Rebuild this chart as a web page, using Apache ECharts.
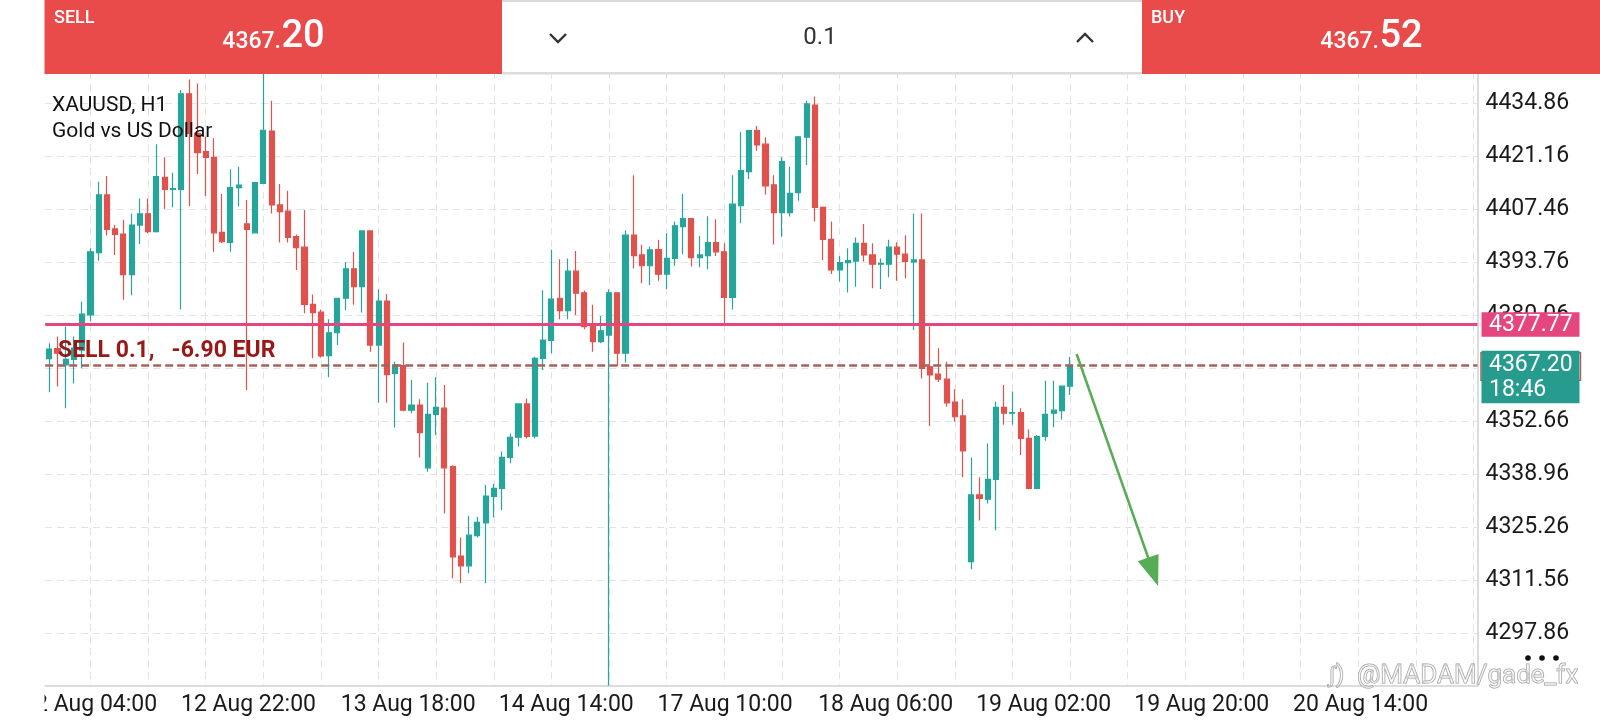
<!DOCTYPE html>
<html><head><meta charset="utf-8">
<script src="https://cdn.jsdelivr.net/npm/echarts@6/dist/echarts.min.js"></script>
<style>html,body{margin:0;padding:0;background:#fff;}#c{width:1600px;height:720px;}</style>
</head><body><div id="c"></div>
<script>
// ---- data ----
const openP = [4368.9,4371.5,4367.3,4368.7,4371.1,4380.2,4396.3,4411.2,4402.4,4401.1,
 4390.6,4403.4,4406.3,4401.7,4415.7,4412.6,4412.6,4437.3,4427.1,4422.4,
 4420.9,4401.5,4398.9,4413.1,4403.7,4401.4,4414.2,4427.7,4408.6,4407.0,
 4400.4,4397.7,4382.9,4380.9,4369.7,4375.6,4384.5,4392.1,4387.5,4401.9,
 4372.4,4383.8,4365.1,4367.1,4355.6,4356.9,4340.7,4354.5,4356.1,4341.0,
 4317.9,4315.4,4323.2,4326.5,4333.3,4335.4,4343.4,4348.6,4357.2,4348.9,
 4369.0,4373.6,4384.5,4381.3,4391.5,4385.9,4377.2,4373.3,4375.0,4385.9,
 4370.3,4400.8,4395.7,4392.9,4397.1,4390.7,4394.8,4403.0,4405.1,4395.0,
 4395.5,4398.9,4396.5,4384.7,4408.4,4417.2,4427.8,4424.3,4413.8,4406.6,
 4406.6,4411.8,4426.1,4434.4,4408.0,4399.7,4391.8,4393.7,4394.1,4398.7,
 4395.7,4393.3,4393.3,4397.7,4395.9,4393.9,4394.4,4366.8,4364.9,4363.6,
 4357.7,4354.1,4316.5,4333.7,4332.6,4337.7,4356.3,4354.8,4355.0,4348.3,
 4335.4,4348.8,4354.8,4355.5,4361.8];
const closeP = [4371.4,4370.3,4368.7,4371.6,4380.4,4396.5,4411.2,4402.3,4401.0,4390.6,
 4403.4,4406.3,4401.7,4415.9,4412.6,4412.8,4437.3,4427.1,4422.1,4420.9,
 4401.4,4399.1,4413.1,4413.7,4402.3,4414.4,4427.9,4408.6,4406.9,4400.2,
 4397.6,4382.9,4380.8,4369.6,4375.6,4384.5,4392.1,4387.5,4401.9,4372.4,
 4383.8,4364.8,4367.3,4355.6,4356.9,4349.8,4354.5,4356.3,4340.7,4317.7,
 4315.4,4323.3,4326.6,4333.4,4335.4,4343.4,4348.6,4357.2,4348.8,4369.0,
 4373.7,4384.3,4381.3,4391.5,4385.8,4377.2,4373.3,4376.1,4385.9,4370.3,
 4400.8,4395.5,4392.9,4397.0,4390.7,4394.8,4403.2,4405.1,4395.0,4395.7,
 4398.9,4396.5,4384.7,4408.8,4417.5,4427.8,4424.1,4413.5,4406.6,4419.8,
 4411.6,4426.2,4434.7,4408.0,4399.7,4391.8,4393.7,4394.2,4398.7,4395.7,
 4393.3,4393.5,4397.7,4395.9,4394.0,4394.4,4366.4,4364.7,4363.6,4357.5,
 4353.9,4345.1,4333.7,4332.8,4337.7,4356.3,4354.8,4355.0,4348.3,4335.4,
 4348.8,4354.5,4355.6,4361.8,4367.2];
const lowP = [4360.2,4361.7,4356.1,4362.5,4366.4,4378.5,4394.2,4400.7,4395.7,4384.1,
 4385.3,4398.5,4401.3,4401.5,4407.5,4408.0,4381.6,4408.3,4416.6,4410.9,
 4396.5,4398.8,4396.5,4408.2,4360.8,4401.3,4414.0,4406.4,4398.9,4398.9,
 4391.8,4380.6,4369.0,4369.2,4364.1,4372.4,4381.5,4382.8,4380.8,4370.7,
 4357.5,4357.5,4351.1,4355.3,4354.8,4343.4,4339.7,4349.2,4328.9,4312.2,
 4310.9,4313.5,4322.7,4310.9,4327.9,4329.8,4341.9,4346.2,4348.3,4348.3,
 4366.0,4370.3,4379.1,4379.1,4380.2,4376.5,4370.7,4372.9,4284.5,4367.0,
 4367.9,4392.2,4388.4,4387.9,4389.0,4386.9,4392.9,4395.9,4392.7,4392.5,
 4392.0,4395.4,4377.9,4381.6,4403.9,4415.3,4422.6,4411.3,4398.4,4400.4,
 4405.6,4409.7,4418.9,4404.3,4394.3,4390.8,4388.8,4386.0,4387.5,4394.0,
 4387.1,4386.9,4389.9,4389.0,4389.7,4376.3,4363.8,4351.5,4362.9,4356.5,
 4352.6,4338.3,4314.5,4327.1,4331.5,4324.6,4351.8,4351.8,4344.0,4335.2,
 4335.2,4347.7,4351.2,4353.2,4359.5];
const highP = [4372.9,4374.6,4377.2,4374.6,4383.6,4397.4,4414.6,4416.1,4403.4,4404.7,
 4406.3,4410.3,4410.3,4424.3,4420.9,4416.9,4438.3,4441.0,4440.0,4426.2,
 4425.8,4411.4,4417.8,4418.5,4409.9,4414.6,4446.0,4435.5,4414.0,4412.3,
 4401.0,4407.3,4385.5,4381.6,4379.1,4384.6,4393.9,4396.5,4402.0,4402.1,
 4386.8,4385.6,4368.1,4373.1,4363.4,4358.4,4362.7,4364.1,4362.1,4341.4,
 4322.7,4328.3,4328.0,4336.3,4336.5,4344.9,4349.6,4357.4,4358.6,4369.4,
 4386.6,4397.0,4394.6,4394.8,4396.7,4386.5,4382.8,4379.9,4386.8,4386.0,
 4402.1,4416.3,4398.3,4397.8,4399.6,4401.3,4404.3,4411.4,4405.3,4400.6,
 4405.7,4404.9,4398.7,4416.3,4427.5,4428.0,4429.0,4426.1,4416.3,4420.9,
 4418.5,4426.4,4435.5,4436.6,4408.2,4404.3,4395.4,4397.4,4400.2,4403.7,
 4398.7,4394.8,4399.6,4399.0,4400.8,4406.4,4406.4,4377.3,4371.6,4368.1,
 4361.0,4358.4,4343.4,4338.3,4347.0,4357.8,4362.1,4360.4,4356.1,4350.6,
 4349.2,4363.2,4363.2,4362.0,4369.4];

const barCount = 174;                       // candles + empty future slots
const timeLabels = ['12 Aug 04:00','12 Aug 22:00','13 Aug 18:00','14 Aug 14:00','17 Aug 10:00',
                    '18 Aug 06:00','19 Aug 02:00','19 Aug 20:00','20 Aug 14:00'];
const timeLabelPos = [4.9, 24.2, 43.6, 62.8, 82.1, 101.6, 120.8, 140.0, 159.3];
const priceTicks = [4297.86,4311.56,4325.26,4338.96,4352.66,4366.36,4380.06,4393.76,4407.46,4421.16,4434.86,4448.56];
const yMin = 4284.43, yMax = 4461.54;
const alertLevel = 4377.77;
const positionLevel = 4367.10;
const bidPrice = 4367.20, askPrice = 4367.52, lotSize = '0.1';
const bidTime = '18:46';
const positionText = 'SELL 0.1,   -6.90 EUR';
const arrowFrom = [124.8, 4370.1];
const arrowTo = [134.7, 4310.2];

// ---- build ----
const categories = Array.from({length: barCount}, (_, i) => String(i));
const candleData = openP.map((o, i) => [o, closeP[i], lowP[i], highP[i]]);
const vGridPos = [];
for (let i = 5; i < barCount; i += 7) vGridPos.push(i);
function labelFor(v) {
  let best = 0, d = 1e9;
  timeLabelPos.forEach((p, i) => { const dd = Math.abs(p - v); if (dd < d) { d = dd; best = i; } });
  return timeLabels[best];
}

const UP = '#26a69a', DOWN = '#e0524e', FONT = 'Roboto';
const chart = echarts.init(document.getElementById('c'), null, {renderer: 'canvas'});
chart.setOption({
  animation: false,
  backgroundColor: '#ffffff',
  textStyle: {fontFamily: FONT},
  grid: {left: 45.2, right: 122.5, top: 0, bottom: 34.3},
  xAxis: [
    {type: 'category', data: categories, boundaryGap: true, show: false},
    {type: 'value', min: -0.5, max: barCount - 0.5, position: 'bottom',
     axisLine: {show: true, onZero: false, lineStyle: {color: '#dcdcdc', width: 2}},
     axisTick: {show: false, customValues: vGridPos},
     axisLabel: {customValues: timeLabelPos, formatter: v => labelFor(v), color: '#1a1a1a', fontSize: 23, fontFamily: FONT, margin: 8},
     splitLine: {show: true, lineStyle: {color: '#e3e3e3', type: [7, 5], width: 1}}}
  ],
  yAxis: {type: 'value', position: 'right', min: yMin, max: yMax,
    axisLine: {show: true, onZero: false, lineStyle: {color: '#dcdcdc', width: 2}},
    axisTick: {show: false, customValues: priceTicks},
    axisLabel: {customValues: priceTicks, formatter: v => v.toFixed(2), color: '#1a1a1a', fontSize: 23, fontFamily: FONT, margin: 8},
    splitLine: {show: true, lineStyle: {color: '#e3e3e3', type: [7, 5], width: 1}}},
  series: [
    {type: 'candlestick', xAxisIndex: 0, yAxisIndex: 0, data: candleData, barWidth: 5.6, clip: true,
     itemStyle: {color: UP, color0: DOWN, borderColor: UP, borderColor0: DOWN, borderWidth: 1.2},
     markLine: {silent: true, symbol: 'none', animation: false, label: {show: false},
       data: [
         {yAxis: alertLevel, lineStyle: {color: '#e5467e', width: 3, type: 'solid'}},
         {yAxis: positionLevel, lineStyle: {color: '#a5625c', width: 2.5, type: [8, 4]}}
       ]}}
  ]
});

// ---- overlay (positions derived from the chart's own scales) ----
const py = p => chart.convertToPixel({yAxisIndex: 0}, p);
const pxy = (v, p) => chart.convertToPixel({xAxisIndex: 1, yAxisIndex: 0}, [v, p]);
const T = (text, x, y, o) => Object.assign({type: 'text', z: 102, style: Object.assign({text, x, y, fill: '#fff', fontSize: 17, fontFamily: FONT, textAlign: 'left', textVerticalAlign: 'middle'}, o || {})});
const R = (x, y, w, h, style, z) => ({type: 'rect', z: z || 100, shape: {x, y, width: w, height: h}, style});

const g = [];
// header
g.push(R(0, 0, 45, 74, {fill: '#fff'}));
g.push(R(44.5, 0, 457.5, 74, {fill: '#e94b4b'}));
g.push(R(502, 0, 640, 74, {fill: '#fff'}));
g.push(R(502, 0, 640, 2, {fill: '#d9d9d9'}, 101));
g.push(R(502, 72, 640, 2.5, {fill: '#dcdcdc'}, 101));
g.push(R(1142, 0, 458, 74, {fill: '#e94b4b'}));
const bidStr = bidPrice.toFixed(2).split('.'), askStr = askPrice.toFixed(2).split('.');
g.push(T('SELL', 54, 18.5, {fontSize: 18, fontWeight: 500}));
g.push(T(bidStr[0] + '.', 281, 42, {fontSize: 23, fontWeight: 500, textAlign: 'right'}));
g.push(T(bidStr[1], 281.5, 37, {fontSize: 38, fontWeight: 500}));
g.push(T('BUY', 1151, 18.5, {fontSize: 18, fontWeight: 500}));
g.push(T(askStr[0] + '.', 1379, 42, {fontSize: 23, fontWeight: 500, textAlign: 'right'}));
g.push(T(askStr[1], 1379.5, 37, {fontSize: 38, fontWeight: 500}));
g.push(T(lotSize, 820, 38, {fontSize: 24, fill: '#333', textAlign: 'center'}));
g.push({type: 'polyline', z: 102, shape: {points: [[550, 34], [558, 42], [566, 34]]}, style: {stroke: '#333', lineWidth: 2.4, fill: null}});
g.push({type: 'polyline', z: 102, shape: {points: [[1077, 42], [1085, 34], [1093, 42]]}, style: {stroke: '#333', lineWidth: 2.4, fill: null}});
// symbol titles
g.push(T('XAUUSD, H1', 52, 105.5, {fontSize: 21, fill: '#111'}));
g.push(T('Gold vs US Dollar', 52, 131.5, {fontSize: 21, fill: '#111'}));
// position label
const yPos = py(positionLevel), yAlert = py(alertLevel), yBid = py(bidPrice);
g.push(T(positionText, 58, yPos - 14, {fontSize: 23, fontWeight: 'bold', fill: '#991717'}));
// right side price tags
g.push(R(1481.5, yAlert - 12, 98, 24.5, {fill: '#e5467e'}));
g.push(T(alertLevel.toFixed(2), 1489, yAlert + 0.5, {fontSize: 23}));
g.push(R(1481, yPos - 13, 99.5, 27.5, {fill: '#fff', stroke: '#b0605a', lineWidth: 1.5}));
g.push(R(1481.5, yBid - 14.5, 98, 52.5, {fill: '#279c8e'}, 101));
g.push(T(bidPrice.toFixed(2), 1489, yBid, {fontSize: 23}));
g.push(T(bidTime, 1489, yBid + 25, {fontSize: 23}));
// arrow
const a = pxy(arrowFrom[0], arrowFrom[1]), b = pxy(arrowTo[0], arrowTo[1]);
const dx = b[0] - a[0], dy = b[1] - a[1], L = Math.hypot(dx, dy), ux = dx / L, uy = dy / L;
const hl = 30, hw = 11, bx = b[0] - ux * hl, by = b[1] - uy * hl;
g.push({type: 'line', z: 50, shape: {x1: a[0], y1: a[1], x2: bx + ux * 2, y2: by + uy * 2}, style: {stroke: '#56ad56', lineWidth: 2.5}});
g.push({type: 'polygon', z: 50, shape: {points: [[b[0], b[1]], [bx - uy * hw, by + ux * hw], [bx + uy * hw, by - ux * hw]]}, style: {fill: '#56ad56'}});
// clip first time label at chart's left edge
g.push(R(0, 687, 44.5, 33, {fill: '#fff'}));
// watermark + menu dots
g.push(T('ʃ)', 1328, 676, {fontSize: 24, fill: 'rgba(255,255,255,0.5)', stroke: '#9a9a9a', lineWidth: 1}));
g.push(T('@MADAM/gade_fx', 1357, 676, {fontSize: 26, fill: 'rgba(255,255,255,0.5)', stroke: '#9a9a9a', lineWidth: 1}));
[1528, 1542, 1556].forEach(x => g.push({type: 'circle', z: 102, shape: {cx: x, cy: 658, r: 2.8}, style: {fill: '#111'}}));

chart.setOption({graphic: {elements: g}});
</script>
</body></html>
